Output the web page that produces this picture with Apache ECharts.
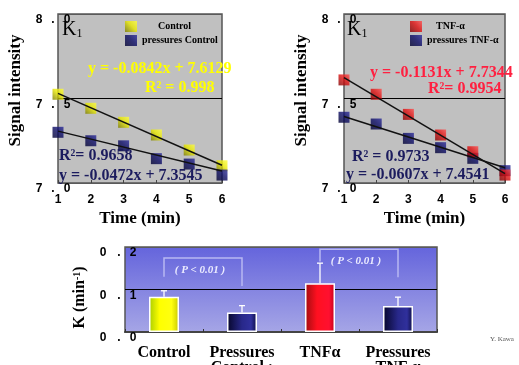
<!DOCTYPE html>
<html>
<head>
<meta charset="utf-8">
<script src="https://cdn.jsdelivr.net/npm/echarts@6/dist/echarts.min.js"></script>
<style>
html, body { margin: 0; padding: 0; background: #fff; }
#main { width: 519px; height: 365px; }
</style>
</head>
<body>
<div id="main"></div>
<script>
// time (min)
var timePoints = [1, 2, 3, 4, 5, 6];
// signal intensity, left panel
var controlVals = [7.525, 7.442, 7.359, 7.284, 7.195, 7.102];
var pressControlVals = [7.300, 7.250, 7.220, 7.144, 7.112, 7.047];
// signal intensity, right panel
var tnfVals = [7.610, 7.525, 7.406, 7.284, 7.185, 7.047];
var pressTnfVals = [7.389, 7.349, 7.264, 7.209, 7.146, 7.073];
// fitted lines, ends at t = 1 and t = 6
var fitX = [1, 6];
var controlFit = [7.530, 7.105];
var pressControlFit = [7.307, 7.071];
var tnfFit = [7.623, 7.056];
var pressTnfFit = [7.394, 7.090];

// K (min-1) bars
var groups = ['Control', 'Pressures\nControl ;', 'TNF\u03b1', 'Pressures\nTNF \u03b1'];
var kMean = [0.083, 0.046, 0.115, 0.061];
var kErrTop = [0.097, 0.062, 0.162, 0.082];
// significance brackets: [from, to, top, left end, right end]
var brackets = [
  [0, 1, 0.174, 0.130, 0.108],
  [2, 3, 0.195, 0.166, 0.129]
];

var serif = 'Liberation Serif';
var sans = 'Liberation Sans';

function lin(x0, y0, x1, y1, stops) {
  return new echarts.graphic.LinearGradient(x0, y0, x1, y1, stops.map(function (s) {
    return { offset: s[0], color: s[1] };
  }));
}
var yellowSq = lin(1, 0, 0, 1, [[0, '#ffff40'], [0.45, '#e8e800'], [1, '#7a7a00']]);
var navySq = lin(1, 0, 0, 1, [[0, '#2c2c9c'], [0.45, '#0c0c66'], [1, '#000030']]);
var redSq = lin(1, 0, 0, 1, [[0, '#ff5050'], [0.45, '#e01010'], [1, '#800000']]);
var barFills = [
  lin(0, 0, 1, 0, [[0, '#a8cc00'], [0.35, '#ffff00'], [0.75, '#ffff10'], [1, '#c8c800']]),
  lin(0, 0, 1, 0, [[0, '#06062a'], [0.5, '#28288a'], [0.8, '#30309c'], [1, '#0c0c40']]),
  lin(0, 0, 1, 0, [[0, '#a00c10'], [0.4, '#ff1020'], [0.8, '#ff1030'], [1, '#c00018']]),
  lin(0, 0, 1, 0, [[0, '#06062a'], [0.5, '#28288a'], [0.8, '#30309c'], [1, '#0c0c40']])
];

function pairs(xs, ys) {
  return xs.map(function (x, i) { return [x, ys[i]]; });
}

function dotLabel(margin, wa, wb, wc) {
  return {
    align: 'left', verticalAlign: 'top', margin: margin,
    fontFamily: sans, fontWeight: 'bold', fontSize: 12, color: '#000',
    formatter: function (v) {
      var s = v.toFixed(1);
      return '{a|' + s[0] + '}{b|.}{c|' + s[2] + '}';
    },
    rich: {
      a: { width: wa, align: 'center' },
      b: { width: wb, align: 'center' },
      c: { width: wc, align: 'center' }
    }
  };
}

function timeAxis(gi) {
  return {
    type: 'value', gridIndex: gi, min: 1, max: 6, interval: 1,
    name: 'Time (min)', nameLocation: 'middle', nameGap: 27,
    nameTextStyle: { fontFamily: serif, fontWeight: 'bold', fontSize: 17, color: '#000' },
    axisLine: { show: false },
    axisTick: { show: true, inside: true, length: 3, lineStyle: { color: '#444' } },
    splitLine: { show: false },
    axisLabel: { margin: 11, fontFamily: sans, fontWeight: 'bold', fontSize: 12, color: '#000' }
  };
}
function signalAxis(gi) {
  return {
    type: 'value', gridIndex: gi, min: 7, max: 8, interval: 0.5,
    name: 'Signal intensity', nameLocation: 'middle', nameGap: 34,
    nameTextStyle: { fontFamily: serif, fontWeight: 'bold', fontSize: 17, color: '#000', padding: [0, 0, 0, 16] },
    axisLine: { show: false },
    axisTick: { show: false },
    splitLine: { show: true, lineStyle: { color: ['#5a5a5a', '#000', '#5a5a5a'], width: 1 } },
    axisLabel: dotLabel(23, 8, 20, 8)
  };
}

function eqText(x, y, text, color) {
  return {
    type: 'text', x: x, y: y, z: 100,
    style: {
      text: text, fill: color, font: 'bold 16px "' + serif + '"',
      verticalAlign: 'middle'
    }
  };
}
function kText(x, y) {
  return {
    type: 'text', x: x, y: y, z: 100,
    style: {
      text: '{k|K}{s|1}', verticalAlign: 'top',
      rich: {
        k: { fontFamily: serif, fontSize: 20, fill: '#000', verticalAlign: 'bottom' },
        s: { fontFamily: serif, fontSize: 12, fill: '#000', verticalAlign: 'bottom' }
      }
    }
  };
}

var legendText = { fontFamily: serif, fontWeight: 'bold', fontSize: 10, color: '#000' };

var chart = echarts.init(document.getElementById('main'));
chart.setOption({
  animation: false,
  grid: [
    { left: 58, top: 14, width: 164, height: 169, outerBoundsMode: 'none', show: true,
      backgroundColor: '#c0c0c0', borderColor: '#555', borderWidth: 1.5 },
    { left: 344, top: 14, width: 161, height: 169, outerBoundsMode: 'none', show: true,
      backgroundColor: '#c0c0c0', borderColor: '#555', borderWidth: 1.5 },
    { left: 125, top: 247, width: 312, height: 85, outerBoundsMode: 'none', show: true,
      borderColor: '#555', borderWidth: 1.5,
      backgroundColor: lin(0, 0, 0, 1, [[0, '#6464dc'], [1, '#a6a6e6']]) }
  ],
  legend: [
    {
      left: 125, top: 21, padding: 0, orient: 'vertical', icon: 'rect', itemWidth: 12, itemHeight: 11, itemGap: 3,
      selectedMode: false,
      data: ['Control', 'pressures Control'],
      formatter: function (n) { return n === 'Control' ? '{p|' + n + '}' : n; },
      textStyle: Object.assign({ rich: { p: { padding: [0, 0, 0, 16] } } }, legendText)
    },
    {
      left: 410, top: 21, padding: 0, orient: 'vertical', icon: 'rect', itemWidth: 12, itemHeight: 11, itemGap: 3,
      selectedMode: false,
      data: ['TNF-\u03b1', 'pressures TNF-\u03b1'],
      formatter: function (n) { return n === 'TNF-\u03b1' ? '{p|' + n + '}' : n; },
      textStyle: Object.assign({ rich: { p: { padding: [0, 0, 0, 9] } } }, legendText)
    }
  ],
  xAxis: [
    timeAxis(0),
    timeAxis(1),
    {
      type: 'category', gridIndex: 2, data: groups,
      axisLine: { show: true, lineStyle: { color: '#444', width: 2 } },
      axisTick: { show: true, inside: true, length: 3, lineStyle: { color: '#333' } },
      axisLabel: { interval: 0, margin: 13, lineHeight: 15, fontFamily: serif, fontWeight: 'bold', fontSize: 16, color: '#000' }
    }
  ],
  yAxis: [
    signalAxis(0),
    signalAxis(1),
    {
      type: 'value', gridIndex: 2, min: 0, max: 0.2, interval: 0.1,
      name: 'K (min{s|-1})', nameLocation: 'middle', nameGap: 37,
      nameTextStyle: {
        fontFamily: serif, fontWeight: 'bold', fontSize: 16, color: '#000', padding: [0, 16, 0, 0],
        rich: { s: { fontFamily: serif, fontWeight: 'bold', fontSize: 10, verticalAlign: 'top', padding: [0, 0, 6, 0] } }
      },
      axisLine: { show: false },
      axisTick: { show: false },
      splitLine: { show: true, lineStyle: { color: ['#5a5a5a', '#000', '#5a5a5a'], width: 1 } },
      axisLabel: dotLabel(26, 8, 24, 4)
    }
  ],
  series: [
    { name: 'Control', type: 'scatter', xAxisIndex: 0, yAxisIndex: 0, symbol: 'rect', symbolSize: 11,
      itemStyle: { color: yellowSq }, data: pairs(timePoints, controlVals), z: 2 },
    { name: 'pressures Control', type: 'scatter', xAxisIndex: 0, yAxisIndex: 0, symbol: 'rect', symbolSize: 11,
      itemStyle: { color: navySq }, data: pairs(timePoints, pressControlVals), z: 2 },
    { name: 'fit control', type: 'line', xAxisIndex: 0, yAxisIndex: 0, showSymbol: false, silent: true, z: 3,
      lineStyle: { color: '#111', width: 1.5 }, data: pairs(fitX, controlFit) },
    { name: 'fit pressures control', type: 'line', xAxisIndex: 0, yAxisIndex: 0, showSymbol: false, silent: true, z: 3,
      lineStyle: { color: '#111', width: 1.5 }, data: pairs(fitX, pressControlFit) },

    { name: 'pressures TNF-\u03b1', type: 'scatter', xAxisIndex: 1, yAxisIndex: 1, symbol: 'rect', symbolSize: 11,
      itemStyle: { color: navySq }, data: pairs(timePoints, pressTnfVals), z: 2 },
    { name: 'TNF-\u03b1', type: 'scatter', xAxisIndex: 1, yAxisIndex: 1, symbol: 'rect', symbolSize: 11,
      itemStyle: { color: redSq }, data: pairs(timePoints, tnfVals), z: 2 },
    { name: 'fit tnf', type: 'line', xAxisIndex: 1, yAxisIndex: 1, showSymbol: false, silent: true, z: 3,
      lineStyle: { color: '#111', width: 1.5 }, data: pairs(fitX, tnfFit) },
    { name: 'fit pressures tnf', type: 'line', xAxisIndex: 1, yAxisIndex: 1, showSymbol: false, silent: true, z: 3,
      lineStyle: { color: '#111', width: 1.5 }, data: pairs(fitX, pressTnfFit) },

    { name: 'K', type: 'bar', xAxisIndex: 2, yAxisIndex: 2, barWidth: 30,
      data: kMean.map(function (v, i) {
        return { value: v, itemStyle: { color: barFills[i], borderColor: '#fff', borderWidth: 1.5 } };
      }) },
    { name: 'err', type: 'custom', xAxisIndex: 2, yAxisIndex: 2, z: 4, silent: true,
      data: kMean.map(function (v, i) { return [i, v, kErrTop[i]]; }),
      encode: { x: 0, y: [1, 2] },
      renderItem: function (params, api) {
        var lo = api.coord([api.value(0), api.value(1)]);
        var hi = api.coord([api.value(0), api.value(2)]);
        var st = { stroke: '#fff', lineWidth: 1.3 };
        return { type: 'group', children: [
          { type: 'line', shape: { x1: lo[0], y1: lo[1], x2: hi[0], y2: hi[1] }, style: st },
          { type: 'line', shape: { x1: hi[0] - 3, y1: hi[1], x2: hi[0] + 3, y2: hi[1] }, style: st }
        ] };
      } },
    { name: 'sig', type: 'custom', xAxisIndex: 2, yAxisIndex: 2, z: 4, silent: true,
      data: brackets,
      encode: { x: [0, 1], y: [2, 3, 4] },
      renderItem: function (params, api) {
        var a = api.coord([api.value(0), api.value(2)]);
        var b = api.coord([api.value(1), api.value(2)]);
        var yl = api.coord([api.value(0), api.value(3)])[1];
        var yr = api.coord([api.value(1), api.value(4)])[1];
        return { type: 'group', children: [
          { type: 'polyline', shape: { points: [[a[0], yl], [a[0], a[1]], [b[0], b[1]], [b[0], yr]] },
            style: { stroke: '#b8b8f2', lineWidth: 1.5, fill: null } },
          { type: 'text', x: (a[0] + b[0]) / 2 - 3, y: a[1] + 12,
            style: { text: '( P < 0.01 )', fill: '#ececff', align: 'center', verticalAlign: 'middle',
              font: 'italic bold 11px "' + serif + '"' } }
        ] };
      } }
  ],
  graphic: [
    kText(62, 20),
    kText(347, 20),
    eqText(88, 69, 'y = -0.0842x + 7.6129', '#ffff00'),
    eqText(145, 88, 'R\u00b2 = 0.998', '#ffff00'),
    eqText(59, 156, 'R\u00b2= 0.9658', '#1c1c5e'),
    eqText(59, 176, 'y = -0.0472x + 7.3545', '#1c1c5e'),
    eqText(370, 73, 'y = -0.1131x + 7.7344', '#ff2040'),
    eqText(428, 89, 'R\u00b2= 0.9954', '#ff2040'),
    eqText(352, 157, 'R\u00b2 = 0.9733', '#1c1c5e'),
    eqText(346, 175, 'y = -0.0607x + 7.4541', '#1c1c5e'),
    { type: 'text', x: 490, y: 339, style: { text: 'Y. Kawa', fill: '#555', font: '7px "' + serif + '"', verticalAlign: 'middle' } }
  ]
});
</script>
</body>
</html>
